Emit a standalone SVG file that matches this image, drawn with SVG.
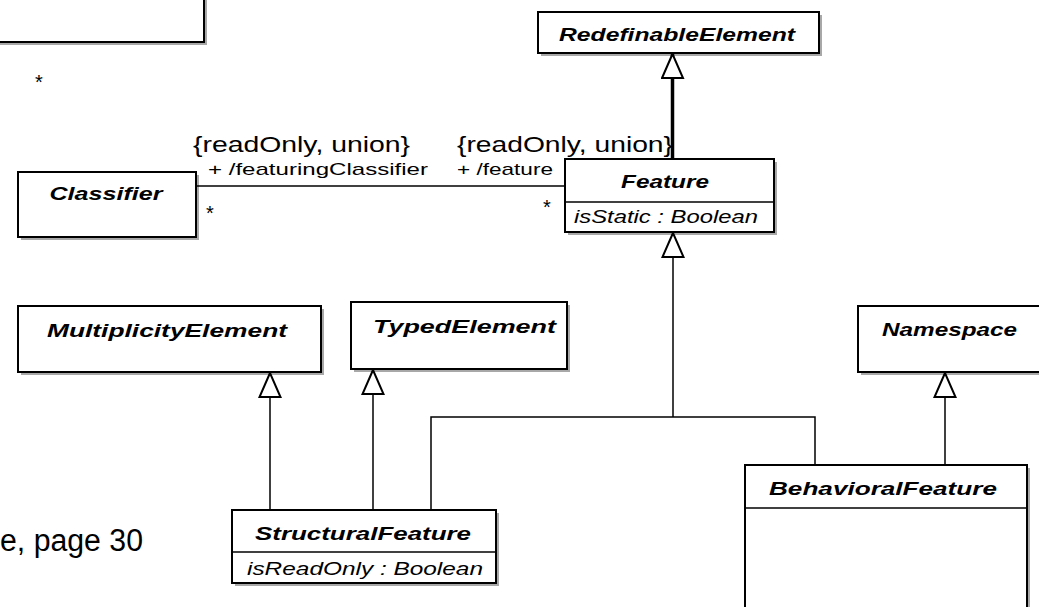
<svg xmlns="http://www.w3.org/2000/svg" width="1039" height="607" viewBox="0 0 1039 607">
<style>
.box{fill:#fff;stroke:#000;stroke-width:2}
.shadow{fill:#a8a8a8}
.sep{stroke:#000;stroke-width:1.5}
.cls{font-family:"Liberation Sans",Arial,sans-serif;font-weight:bold;font-style:italic;font-size:19px;fill:#000}
.attr{font-family:"Liberation Sans",Arial,sans-serif;font-style:italic;font-size:18px;fill:#000}
.lbl{font-family:"Liberation Sans",Arial,sans-serif;font-size:22px;fill:#000}
.role{font-family:"Liberation Sans",Arial,sans-serif;font-size:17px;fill:#000}
.mult{font-family:"Liberation Sans",Arial,sans-serif;font-size:20px;fill:#000}
.conn{fill:none;stroke:#000;stroke-width:1.5}
.thick{fill:none;stroke:#000;stroke-width:3.5}
</style>
<defs>
<marker id="gen" viewBox="0 0 26 24" refX="25" refY="12" markerWidth="26" markerHeight="24" markerUnits="userSpaceOnUse" orient="auto">
<path d="M25,12 L1,1.5 L1,22.5 Z" fill="#fff" stroke="#000" stroke-width="2"/>
</marker>
</defs>
<rect width="1039" height="607" fill="#fff"/>

<g id="topleft">
<rect class="shadow" x="-2" y="-2" width="209" height="47"/>
<rect class="box" x="-5" y="-5" width="209" height="47"/>
</g>

<g id="page-text">
<text x="0" y="551" font-family="'Liberation Sans',Arial,sans-serif" font-size="31" fill="#000" textLength="143" lengthAdjust="spacingAndGlyphs">e, page 30</text>
</g>

<g id="RedefinableElement">
<rect class="shadow" x="541" y="15" width="281" height="41"/>
<rect class="box" x="538" y="12" width="281" height="41"/>
<text class="cls" x="677" y="41" text-anchor="middle" textLength="236" lengthAdjust="spacingAndGlyphs">RedefinableElement</text>
</g>

<g id="Classifier">
<rect class="shadow" x="21" y="175" width="178" height="65"/>
<rect class="box" x="18" y="172" width="178" height="65"/>
<text class="cls" x="106" y="200" text-anchor="middle" textLength="113" lengthAdjust="spacingAndGlyphs">Classifier</text>
</g>

<g id="Feature">
<rect class="shadow" x="568" y="162" width="209" height="73"/>
<rect class="box" x="565" y="159" width="209" height="73"/>
<line class="sep" x1="565" y1="202" x2="774" y2="202"/>
<text class="cls" x="665" y="188" text-anchor="middle" textLength="88" lengthAdjust="spacingAndGlyphs">Feature</text>
<text class="attr" x="574" y="223" textLength="184" lengthAdjust="spacingAndGlyphs">isStatic : Boolean</text>
</g>

<g id="MultiplicityElement">
<rect class="shadow" x="21" y="309" width="303" height="66"/>
<rect class="box" x="18" y="306" width="303" height="66"/>
<text class="cls" x="167" y="337" text-anchor="middle" textLength="240" lengthAdjust="spacingAndGlyphs">MultiplicityElement</text>
</g>

<g id="TypedElement">
<rect class="shadow" x="354" y="305" width="216" height="67"/>
<rect class="box" x="351" y="302" width="216" height="67"/>
<text class="cls" x="373" y="333" textLength="183" lengthAdjust="spacingAndGlyphs">TypedElement</text>
</g>

<g id="Namespace">
<rect class="shadow" x="861" y="309" width="190" height="66"/>
<rect class="box" x="858" y="306" width="190" height="66"/>
<text class="cls" x="882" y="336" textLength="135" lengthAdjust="spacingAndGlyphs">Namespace</text>
</g>

<g id="StructuralFeature">
<rect class="shadow" x="235" y="513" width="264" height="73"/>
<rect class="box" x="232" y="510" width="264" height="73"/>
<line class="sep" x1="232" y1="552" x2="496" y2="552"/>
<text class="cls" x="363" y="540" text-anchor="middle" textLength="216" lengthAdjust="spacingAndGlyphs">StructuralFeature</text>
<text class="attr" x="247" y="575" textLength="236" lengthAdjust="spacingAndGlyphs">isReadOnly : Boolean</text>
</g>

<g id="BehavioralFeature">
<rect class="shadow" x="748" y="468" width="282" height="150"/>
<rect class="box" x="745" y="465" width="282" height="150"/>
<line class="sep" x1="745" y1="508" x2="1027" y2="508"/>
<text class="cls" x="883" y="495" text-anchor="middle" textLength="228" lengthAdjust="spacingAndGlyphs">BehavioralFeature</text>
</g>

<g id="connectors">
<line class="conn" x1="197" y1="186" x2="565" y2="186"/>
<path class="thick" d="M672.5,159 L672.5,54" marker-end="url(#gen)"/>
<path class="conn" d="M431,509 L431,417 L815,417 L815,465"/>
<path class="conn" d="M673,417 L673,233" marker-end="url(#gen)"/>
<path class="conn" d="M270,509 L270,373" marker-end="url(#gen)"/>
<path class="conn" d="M373,509 L373,370" marker-end="url(#gen)"/>
<path class="conn" d="M945,465 L945,373" marker-end="url(#gen)"/>
</g>

<g id="labels">
<text class="mult" x="35" y="89">*</text>
<text class="lbl" x="193" y="152" textLength="217" lengthAdjust="spacingAndGlyphs">{readOnly, union}</text>
<text class="role" x="208" y="175" textLength="220" lengthAdjust="spacingAndGlyphs">+ /featuringClassifier</text>
<text class="mult" x="206" y="220">*</text>
<text class="lbl" x="457" y="152" textLength="216" lengthAdjust="spacingAndGlyphs">{readOnly, union}</text>
<text class="role" x="457" y="175" textLength="96" lengthAdjust="spacingAndGlyphs">+ /feature</text>
<text class="mult" x="543" y="214">*</text>
</g>
</svg>
